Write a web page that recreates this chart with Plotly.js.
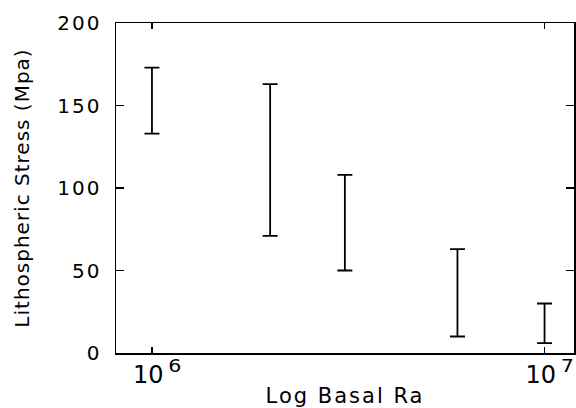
<!DOCTYPE html>
<html>
<head>
<meta charset="utf-8">
<script src="https://cdn.plot.ly/plotly-3.0.1.min.js"></script>
<style>
  html, body { margin: 0; padding: 0; background: #fff; }
  #chart { width: 576px; height: 408px; }
  .ytick text { letter-spacing: 2px; }
  .g-xtitle text { letter-spacing: 2px; }
  .g-ytitle text { letter-spacing: 1px; }
</style>
</head>
<body>
<div id="chart"></div>
<script>
// Basal Rayleigh number for each run
const basalRa = [1e6, 2e6, 3.1e6, 6e6, 1e7];
// Lithospheric stress range (MPa): upper and lower limits
const stressUpper = [173, 163, 108, 63, 30];
const stressLower = [133, 71, 50, 10, 6];
// Axis ticks
const xTickVals = [1e6, 1e7];
const xTickText = ['10\u2009<span style="font-size:32px">\u2076</span>', '10\u2009<span style="font-size:32px">\u2077</span>'];
const yTickVals = [0, 50, 100, 150, 200];

const trace = {
  type: 'scatter',
  mode: 'markers',
  x: basalRa,
  y: stressLower,
  marker: { size: 1, color: 'rgba(0,0,0,0)' },
  error_y: {
    type: 'data',
    symmetric: false,
    array: stressUpper.map((u, i) => u - stressLower[i]),
    arrayminus: stressLower.map(() => 0),
    color: '#000',
    thickness: 1.8,
    width: 7.5
  },
  hoverinfo: 'skip',
  showlegend: false
};

const axisCommon = {
  showgrid: false,
  zeroline: false,
  showline: true,
  linecolor: '#000',
  linewidth: 1.5,
  mirror: 'ticks',
  ticks: 'inside',
  tickcolor: '#000',
  tickwidth: 1.5
};

const layout = {
  width: 576,
  height: 408,
  margin: { l: 116, r: 2, t: 23, b: 55 },
  paper_bgcolor: '#fff',
  plot_bgcolor: '#fff',
  font: { family: 'DejaVu Sans', color: '#000' },
  xaxis: Object.assign({}, axisCommon, {
    type: 'log',
    range: [5.9084, 7.075],
    tickmode: 'array',
    tickvals: xTickVals,
    ticktext: xTickText,
    ticklen: 6,
    tickfont: { family: 'DejaVu Sans', size: 24, color: '#000' },
    ticklabelshift: 5,
    ticklabeloverflow: 'allow',
    title: { text: 'Log Basal Ra', font: { family: 'DejaVu Sans', size: 21, color: '#000' }, standoff: 2 }
  }),
  yaxis: Object.assign({}, axisCommon, {
    range: [0, 200],
    tickmode: 'array',
    tickvals: yTickVals,
    ticklen: 8,
    tickfont: { family: 'DejaVu Sans', size: 20, color: '#000' },
    ticklabelstandoff: 9,
    title: { text: 'Lithospheric Stress (Mpa)', font: { family: 'DejaVu Sans', size: 20, color: '#000' }, standoff: 22 }
  })
};

Plotly.newPlot('chart', [trace], layout, { staticPlot: true, displayModeBar: false });
</script>
</body>
</html>
